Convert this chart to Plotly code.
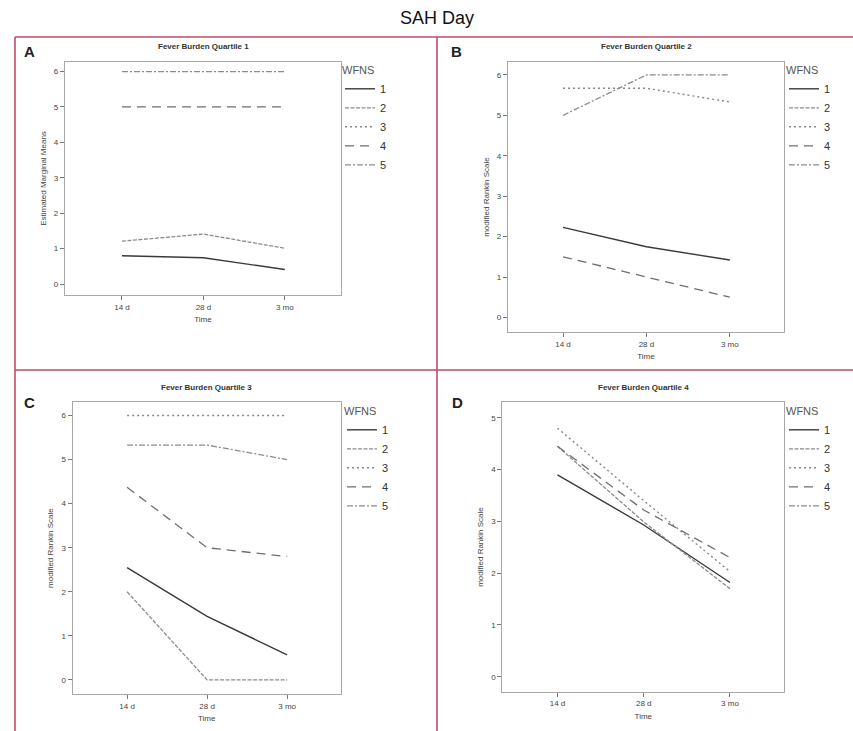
import plotly.graph_objects as go

W, H = 853, 731

times = ["14 d", "28 d", "3 mo"]
wfns = ["1", "2", "3", "4", "5"]

panel_titles = ["Fever Burden Quartile 1", "Fever Burden Quartile 2",
                "Fever Burden Quartile 3", "Fever Burden Quartile 4"]
panel_letters = ["A", "B", "C", "D"]
y_titles = ["Estimated Marginal Means", "modified Rankin Scale",
            "modified Rankin Scale", "modified Rankin Scale"]

# Estimated marginal means (mRS) per WFNS grade; None = grade absent in panel
q1 = {"1": [0.8, 0.74, 0.41], "2": [1.21, 1.41, 1.01], "3": None,
      "4": [5, 5, 5], "5": [6, 6, 6]}
q2 = {"1": [2.23, 1.75, 1.42], "2": None, "3": [5.67, 5.67, 5.33],
      "4": [1.5, 1.0, 0.5], "5": [5.0, 6.0, 6.0]}
q3 = {"1": [2.55, 1.44, 0.57], "2": [2.0, 0.0, 0.0], "3": [6, 6, 6],
      "4": [4.37, 3.0, 2.8], "5": [5.33, 5.33, 5.0]}
q4 = {"1": [3.9, 2.93, 1.82], "2": [4.45, 2.99, 1.7], "3": [4.8, 3.4, 2.03],
      "4": [4.45, 3.22, 2.3], "5": None}
panels = [q1, q2, q3, q4]

y_ranges = [[-0.31, 6.27], [-0.36, 6.32], [-0.32, 6.3], [-0.29, 5.3]]
y_ticks = [[0, 1, 2, 3, 4, 5, 6]] * 3 + [[0, 1, 2, 3, 4, 5]]

styles = {
    "1": dict(color="#3a3a3a", dash="solid", width=1.4),
    "2": dict(color="#8c8c8c", dash="4px,1.5px", width=1.3),
    "3": dict(color="#888888", dash="2px,3px", width=1.4),
    "4": dict(color="#6e6e6e", dash="9px,6px", width=1.3),
    "5": dict(color="#8c8c8c", dash="6px,2px,2px,2px", width=1.3),
}

# layout geometry (pixels)
plot_px = [(65, 341, 62, 295), (508, 784, 62, 332),
           (72.7, 340.7, 402.3, 694), (502.3, 784.3, 402.3, 691.7)]
x_ranges = [[-0.70, 2.69], [-0.66, 2.65], [-0.68, 2.67], [-0.64, 2.63]]
legend_px = [(340, 60), (784, 60), (342, 401), (784, 401)]
letter_px = [(29, 52), (456, 51), (29, 402), (457, 402)]

fig = go.Figure()
FONT = "Liberation Sans, Arial, sans-serif"

for i, data in enumerate(panels):
    ax = "" if i == 0 else str(i + 1)
    leg = "legend" if i == 0 else f"legend{i + 1}"
    for g in wfns:
        vals = data[g]
        fig.add_trace(go.Scatter(
            x=times,
            y=vals if vals is not None else [None, None, None],
            mode="lines", name=g, line=styles[g],
            xaxis="x" + ax, yaxis="y" + ax, legend=leg,
            showlegend=True, hoverinfo="skip"))

    x0, x1, y0, y1 = plot_px[i]
    common = dict(showline=True, mirror=True, linecolor="#a8a8a8", linewidth=1.2,
                  showgrid=False, zeroline=False, ticks="outside", ticklen=4,
                  tickcolor="#777", tickfont=dict(size=8, color="#444", family=FONT))
    fig.update_layout(**{
        "xaxis" + ax: dict(common, type="category", categoryorder="array",
                           categoryarray=times, range=x_ranges[i],
                           domain=[x0 / W, x1 / W], anchor="y" + ax,
                           title=dict(text="Time", font=dict(size=8, color="#444", family=FONT),
                                      standoff=5)),
        "yaxis" + ax: dict(common, range=y_ranges[i], tickvals=y_ticks[i],
                           domain=[1 - y1 / H, 1 - y0 / H], anchor="x" + ax,
                           title=dict(text=y_titles[i], font=dict(size=8, color="#444", family=FONT),
                                      standoff=6)),
    })
    lx, ly = legend_px[i]
    fig.update_layout(**{leg: dict(
        title=dict(text="WFNS", font=dict(size=11, color="#555", family=FONT)),
        x=lx / W, y=1 - ly / H, xanchor="left", yanchor="top",
        font=dict(size=11, color="#333", family=FONT),
        bgcolor="rgba(0,0,0,0)", itemwidth=30, tracegroupgap=0,
        itemclick=False, itemdoubleclick=False)})
    fig.add_annotation(x=(x0 + x1) / 2 / W, y=1 - (y0 - 15) / H, xref="paper", yref="paper",
                       xanchor="center", yanchor="middle",
                       text="<b>" + panel_titles[i] + "</b>", showarrow=False,
                       font=dict(size=8, color="#333", family=FONT))
    lx2, ly2 = letter_px[i]
    fig.add_annotation(x=lx2 / W, y=1 - ly2 / H, xref="paper", yref="paper",
                       xanchor="center", yanchor="middle",
                       text="<b>" + panel_letters[i] + "</b>", showarrow=False,
                       font=dict(size=15, color="#222", family=FONT))

# title
fig.add_annotation(x=437 / W, y=1 - 18 / H, xref="paper", yref="paper", text="SAH Day",
                   xanchor="center", yanchor="middle",
                   showarrow=False, font=dict(size=18, color="#111", family=FONT))

# red panel frame
red = dict(color="#bf4d68", width=1.6)
for (xa, ya, xb, yb) in [(15, 37, 853, 37), (15, 37, 15, 731), (437, 37, 437, 731),
                         (15, 370, 853, 370)]:
    fig.add_shape(type="line", xref="paper", yref="paper",
                  x0=xa / W, y0=1 - ya / H, x1=xb / W, y1=1 - yb / H, line=red)

fig.update_layout(width=W, height=H, margin=dict(l=0, r=0, t=0, b=0),
                  paper_bgcolor="white", plot_bgcolor="white",
                  font=dict(family=FONT))

fig.write_html("out.html", config={"displayModeBar": False},
               post_script="document.body.style.margin='0';document.body.style.overflow='hidden';")
